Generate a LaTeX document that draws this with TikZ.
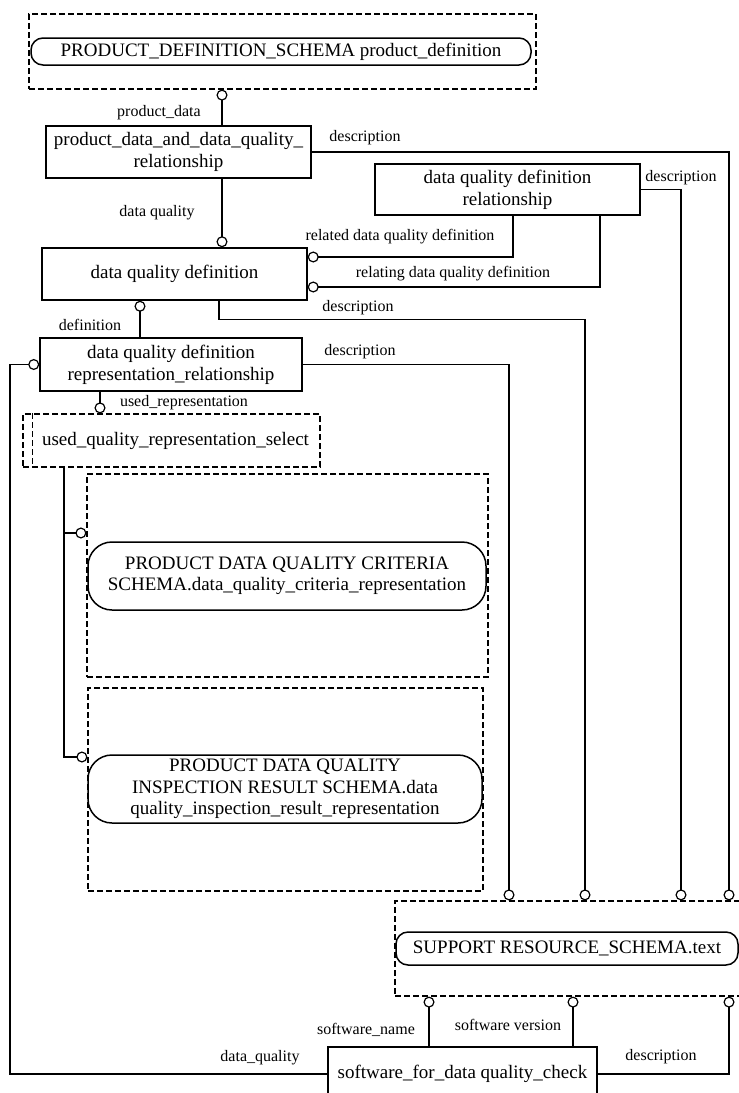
\documentclass[tikz,border=0pt]{standalone}
\usepackage{fontspec}
\setmainfont{Liberation Serif}
\usetikzlibrary{arrows.meta}

\tikzset{
  ent/.style={draw, line width=1.5pt, align=center, inner sep=2pt, font=\fontsize{19}{22}\selectfont},
  schbox/.style={draw, line width=1.2pt, dash pattern=on 6pt off 3pt, font=\fontsize{19}{22}\selectfont},
  schref/.style={draw, line width=1.5pt, rounded corners=#1, align=center, inner sep=0pt, font=\fontsize{19}{21.5}\selectfont},
  schref/.default=12pt,
  attr/.style={font=\fontsize{16}{18}\selectfont, inner sep=0pt},
  rel/.style={line width=1.2pt}
}

\begin{document}
\begin{tikzpicture}[x=1pt, y=-1pt, >={Circle[open,length=11pt,width=11pt]}]
	\useasboundingbox (0,0) rectangle (739,1093);
	% schema references
	\node[schbox, minimum width=507pt, minimum height=75pt] (pdsOuter) at (282.5,51.5) {};
	\node[schref, minimum width=500pt, minimum height=27pt] (pds) at (281,51.5) {PRODUCT\_DEFINITION\_SCHEMA product\_definition};
	\node[schbox, minimum width=401pt, minimum height=203pt] (crOuter) at (287.5,575.5) {};
	\node[schref=24pt, minimum width=398pt, minimum height=68pt] (cr) at (287,576) {PRODUCT DATA QUALITY CRITERIA\\SCHEMA.data\_quality\_criteria\_representation};
	\node[schbox, minimum width=395pt, minimum height=203pt] (irOuter) at (285.5,789.5) {};
	\node[schref=24pt, minimum width=394pt, minimum height=68pt] (ir) at (285,789) {PRODUCT DATA QUALITY\\INSPECTION RESULT SCHEMA.data\\quality\_inspection\_result\_representation};
	\node[schbox, minimum width=350pt, minimum height=95pt] (supOuter) at (570,948.5) {};
	\node[schref, minimum width=342pt, minimum height=33pt] (sup) at (567,948.5) {SUPPORT RESOURCE\_SCHEMA.text};

	% entities
	\node[ent, minimum width=265pt, minimum height=52pt] (pdq) at (178.5,152) {product\_data\_and\_data\_quality\_\\relationship};
	\node[ent, minimum width=265pt, minimum height=51pt] (dqdr) at (507.5,189.5) {data quality definition\\relationship};
	\node[ent, minimum width=265pt, minimum height=52pt] (dqd) at (174.5,274) {data quality definition};
	\node[ent, minimum width=262pt, minimum height=53pt] (dqdrr) at (171,364.5) {data quality definition\\representation\_relationship};
	\node[ent, minimum width=269pt, minimum height=54pt] (sw) at (462.5,1074) {software\_for\_data quality\_check};

	% select type
	\node[schbox, minimum width=297pt, minimum height=53pt] (sel) at (171.5,440.5) {\hspace*{8pt}used\_quality\_representation\_select};
	\draw[rel, dash pattern=on 6pt off 3pt] ([xshift=10pt]sel.north west) -- ([xshift=10pt]sel.south west);

	% attributes
	\draw[rel, ->] (pdq.north -| 222,0) -- (pdsOuter.south -| 222,0);
	\draw[rel, ->] (pdq.south -| 222,0) -- (dqd.north -| 222,0);
	\draw[rel, ->] (pdq.east) -| (supOuter.north -| 729,0);
	\draw[rel, ->] (dqdr.east) -| (supOuter.north -| 681,0);
	\draw[rel, ->] (dqdr.south -| 513,0) |- (dqd.east |- 0,257);
	\draw[rel, ->] (dqdr.south -| 600,0) |- (dqd.east |- 0,287);
	\draw[rel, ->] (dqd.south -| 219,0) -- ++(0,19) -| (supOuter.north -| 585,0);
	\draw[rel, ->] (dqdrr.north -| 140,0) -- (dqd.south -| 140,0);
	\draw[rel, ->] (dqdrr.east) -| (supOuter.north -| 509,0);
	\draw[rel, ->] (dqdrr.south -| 100,0) -- (sel.north -| 100,0);
	\draw[rel, ->] (sel.south -| 64,0) |- (crOuter.west |- 0,533);
	\draw[rel, ->] (sel.south -| 64,0) |- (irOuter.west |- 0,757);
	\draw[rel, ->] (sw.west) -| (dqdrr.west -| 10,0) -- (dqdrr.west);
	\draw[rel, ->] (sw.north -| 429,0) -- (supOuter.south -| 429,0);
	\draw[rel, ->] (sw.north -| 573,0) -- (supOuter.south -| 573,0);
	\draw[rel, ->] (sw.east) -| (supOuter.south -| 729,0);

	% attribute names
	\node[attr] (lProd) at (159,113) {product\_data};
	\node[attr] (lDq) at (157,213) {data quality};
	\node[attr] (lDesc1) at (365,138) {description};
	\node[attr] (lDesc2) at (681,178) {description};
	\node[attr] (lRelated) at (400,237) {related data quality definition};
	\node[attr] (lRelating) at (453,274) {relating data quality definition};
	\node[attr] (lDesc3) at (358,308) {description};
	\node[attr] (lDef) at (90,325) {definition};
	\node[attr] (lDesc4) at (360,352) {description};
	\node[attr] (lUsed) at (184,403) {used\_representation};
	\node[attr] (lSwName) at (366,1030) {software\_name};
	\node[attr] (lSwVer) at (508,1025) {software version};
	\node[attr] (lDesc5) at (661,1057) {description};
	\node[attr] (lDataQ) at (260,1058) {data\_quality};
\end{tikzpicture}
\end{document}
